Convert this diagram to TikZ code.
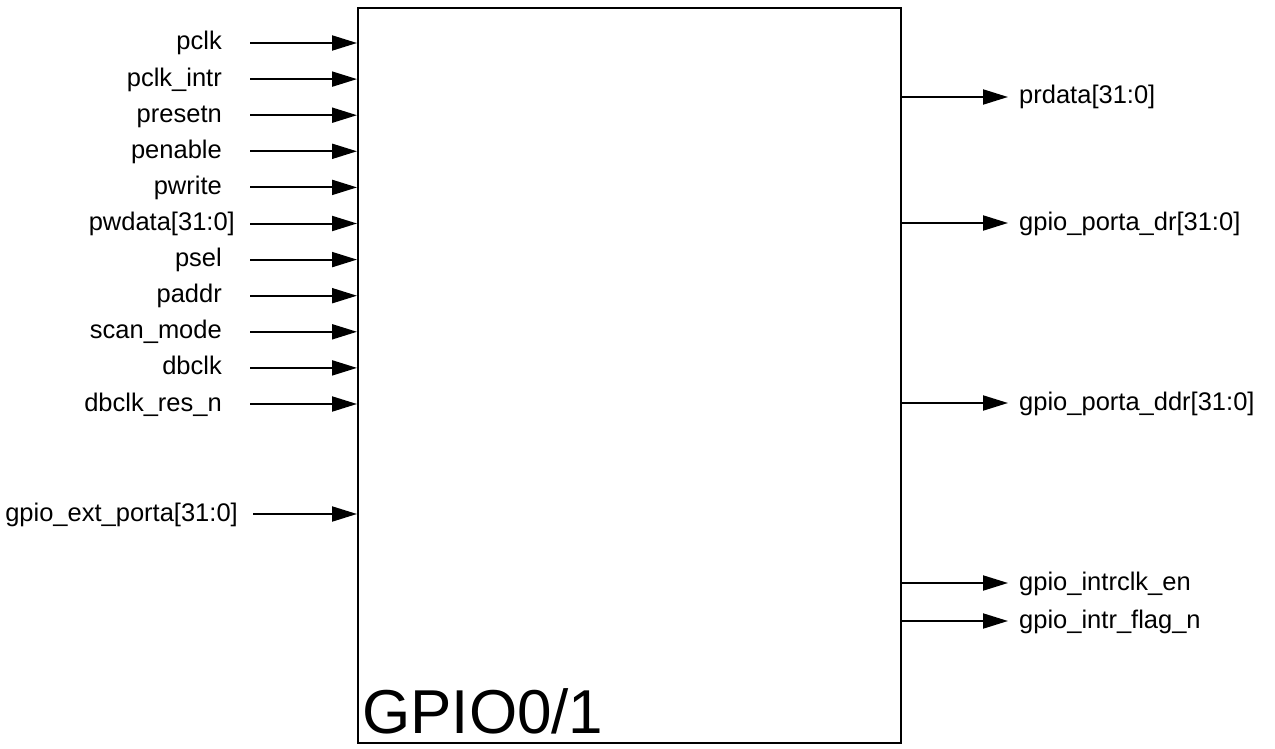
\documentclass[tikz,border=0pt]{standalone}
\usepackage{fontspec}
\setmainfont{Liberation Sans}
\usetikzlibrary{arrows.meta,positioning,calc}
\tikzset{
  % block outline and port wiring
  blk/.style  = {draw, line width=2pt, inner sep=0pt, minimum width=543pt,
                 minimum height=735pt},
  port/.style = {font=\fontsize{25.5}{30}\selectfont, inner sep=0pt},
  title/.style = {font=\fontsize{62}{70}\selectfont, inner sep=0pt},
  sig/.style  = {-{Triangle[length=25pt,width=15pt]}, line width=2pt},
}
\begin{document}
\begin{tikzpicture}[x=1pt,y=-1pt]
\useasboundingbox (0,0) rectangle (1275,749);
\node[blk, anchor=north west] (gpio) at (357,7) {};
\node[title, anchor=base west] (name) at (362,733) {GPIO0/1};
% inputs
\foreach \name/\gap [count=\i] in {pclk/28, pclk\_intr/28, presetn/28, penable/28,
    pwrite/28, {pwdata[31:0]}/15, psel/28, paddr/28, scan\_mode/28, dbclk/28,
    dbclk\_res\_n/28} {
  \coordinate (in\i) at (250,{43+36.1*(\i-1)});
  \draw[sig] (in\i) -- (in\i -| gpio.west);
  \node[port, anchor=base east] (inl\i) at ($(in\i)+(-\gap,7)$) {\name};
}
\coordinate (ext) at (253,514);
\draw[sig] (ext) -- (ext -| gpio.west);
\node[port, anchor=base east] (extl) at ($(ext)+(-15,7)$) {gpio\_ext\_porta[31:0]};
% outputs
\foreach \name/\y [count=\i] in {{prdata[31:0]}/97, {gpio\_porta\_dr[31:0]}/223,
    {gpio\_porta\_ddr[31:0]}/403, gpio\_intrclk\_en/583, gpio\_intr\_flag\_n/621} {
  \coordinate (out\i) at (1008,\y);
  \draw[sig] (out\i -| gpio.east) -- (out\i);
  \node[port, anchor=base west] (outl\i) at ($(out\i)+(11,7)$) {\name};
}
\end{tikzpicture}
\end{document}
